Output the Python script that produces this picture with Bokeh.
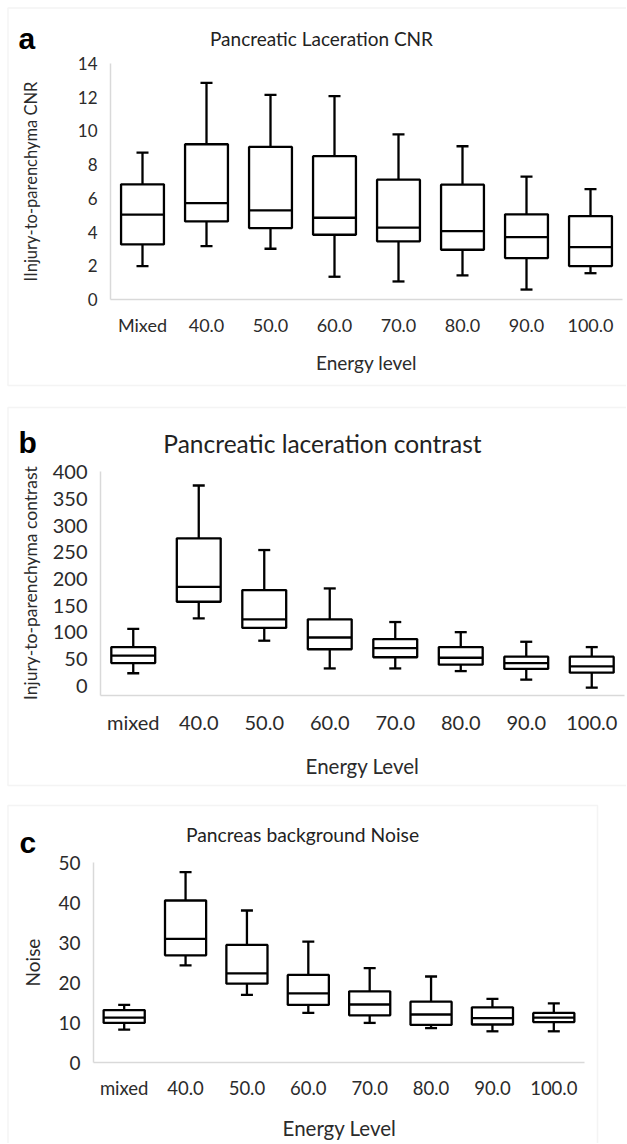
import math
from bokeh.plotting import figure
from bokeh.models import Range1d, FixedTicker, Label, BoxAnnotation, ColumnDataSource
from bokeh.transform import dodge
from bokeh.layouts import column
from bokeh.embed import file_html
from bokeh.resources import INLINE

# ---------------- data ----------------
cats_a = ["Mixed", "40.0", "50.0", "60.0", "70.0", "80.0", "90.0", "100.0"]
cats_bc = ["mixed", "40.0", "50.0", "60.0", "70.0", "80.0", "90.0", "100.0"]

cnr_low = [1.98, 3.17, 3.01, 1.35, 1.07, 1.43, 0.59, 1.56]
cnr_q1 = [3.27, 4.63, 4.24, 3.84, 3.45, 2.95, 2.46, 1.98]
cnr_med = [5.03, 5.72, 5.29, 4.85, 4.26, 4.06, 3.70, 3.11]
cnr_q3 = [6.83, 9.21, 9.05, 8.50, 7.11, 6.81, 5.05, 4.95]
cnr_high = [8.71, 12.85, 12.14, 12.06, 9.80, 9.09, 7.29, 6.55]
cnr_ticks = [0, 2, 4, 6, 8, 10, 12, 14]

con_low = [23, 126, 84, 32, 32, 27, 11, -4]
con_q1 = [42, 157, 108, 68, 53, 39, 31, 24]
con_med = [56, 185, 124, 90, 70, 52, 42, 36]
con_q3 = [72, 276, 179, 124, 87, 72, 54, 54]
con_high = [106, 375, 254, 182, 119, 100, 82, 72]
con_ticks = [0, 50, 100, 150, 200, 250, 300, 350, 400]

noi_low = [8.2, 24.3, 16.9, 12.4, 9.9, 8.6, 7.8, 7.8]
noi_q1 = [9.9, 26.8, 19.7, 14.4, 11.8, 9.4, 9.5, 10.1]
noi_med = [11.2, 30.9, 22.3, 17.3, 14.5, 12.0, 11.1, 11.2]
noi_q3 = [13.1, 40.5, 29.4, 21.9, 17.8, 15.2, 13.8, 12.4]
noi_high = [14.4, 47.6, 38.0, 30.2, 23.6, 21.5, 15.9, 14.8]
noi_ticks = [0, 10, 20, 30, 40, 50]

FONT = "Lato"
TXT = "#2b2b2b"
GRID = "#d9d9d9"
W = 626


def panel(cats, low, q1, med, q3, high, ticks, y0, y1, *, height, plot_box,
          title, title_size, title_pos, letter, letter_pos,
          ylabel, ylabel_size, ylabel_x, tick_size, xtick_size, xtick_standoff,
          xlabel, xlabel_size, xlabel_pos, border):
    n = len(cats)
    xpos = list(range(n))
    L, T, R, B = plot_box
    xa, xb = -0.5, n - 0.5
    kx = (R - L) / (xb - xa)
    ky = (B - T) / (y1 - y0)
    xs = xa - L / kx
    xe = xb + (W - R) / kx
    ye = y1 + T / ky
    ys = y0 - (height - B) / ky

    def X(px):
        return xs + px / kx

    def Y(py):
        return ye - py / ky

    p = figure(width=W, height=height, x_range=Range1d(xs, xe), y_range=Range1d(ys, ye),
               output_backend="svg", toolbar_location=None,
               min_border=0, min_border_left=0, min_border_right=0,
               min_border_top=0, min_border_bottom=0)
    p.outline_line_color = None
    p.xgrid.grid_line_color = None
    p.ygrid.grid_line_color = None
    p.background_fill_color = "white"
    p.border_fill_color = "white"

    # panel frame
    bl, bt, br, bb = border
    p.add_layout(BoxAnnotation(left=X(bl), right=X(br), top=Y(bt), bottom=Y(bb),
                               fill_color=None, fill_alpha=0, line_color=GRID, line_width=1.5,
                               level="underlay"))

    src = ColumnDataSource(dict(x=xpos, low=low, q1=q1, med=med, q3=q3, high=high))
    lw = 2.3
    p.segment(x0="x", y0="low", x1="x", y1="high", source=src, line_color="black", line_width=lw)
    p.vbar(x="x", width=0.67, bottom="q1", top="q3", source=src, fill_color="white",
           line_color="black", line_width=lw)
    p.segment(x0=dodge("x", -0.335), y0="med", x1=dodge("x", 0.335), y1="med", source=src,
              line_color="black", line_width=lw)
    p.scatter(x="x", y="high", source=src, marker="dash", size=12, line_color="black", line_width=lw)
    p.scatter(x="x", y="low", source=src, marker="dash", size=12, line_color="black", line_width=lw)

    for ax in (p.xaxis, p.yaxis):
        ax.axis_line_color = GRID
        ax.axis_line_width = 1.5
        ax.major_tick_line_color = None
        ax.minor_tick_line_color = None
        ax.major_tick_out = 0
        ax.major_tick_in = 0
        ax.major_label_text_font = FONT
        ax.major_label_text_color = TXT

    p.yaxis.fixed_location = xa
    p.yaxis.bounds = (y0, y1)
    p.yaxis.ticker = FixedTicker(ticks=ticks)
    p.yaxis.major_label_text_font_size = tick_size
    p.yaxis.major_label_standoff = 13

    p.xaxis.fixed_location = y0
    p.xaxis.bounds = (xa, xb)
    p.xaxis.ticker = FixedTicker(ticks=xpos)
    p.xaxis.major_label_overrides = {i: c for i, c in zip(xpos, cats)}
    p.xaxis.major_label_text_font_size = xtick_size
    p.xaxis.major_label_standoff = xtick_standoff

    p.add_layout(Label(x=X(title_pos[0]), y=Y(title_pos[1]), text=title, text_font=FONT,
                       text_font_size=title_size, text_color="#222222",
                       text_align="center", text_baseline="alphabetic"))
    p.add_layout(Label(x=X(letter_pos[0]), y=Y(letter_pos[1]), text=letter,
                       text_font="Liberation Sans", text_font_style="bold",
                       text_font_size="30px", text_color="black",
                       text_align="left", text_baseline="alphabetic"))
    p.add_layout(Label(x=X(ylabel_x), y=Y((T + B) / 2), text=ylabel, text_font=FONT,
                       text_font_size=ylabel_size, text_color=TXT, angle=math.pi / 2,
                       text_align="center", text_baseline="middle"))
    p.add_layout(Label(x=X(xlabel_pos[0]), y=Y(xlabel_pos[1]), text=xlabel, text_font=FONT,
                       text_font_size=xlabel_size, text_color=TXT,
                       text_align="center", text_baseline="middle"))
    return p


# panel a: canvas y = page y
pa = panel(cats_a, cnr_low, cnr_q1, cnr_med, cnr_q3, cnr_high, cnr_ticks, 0, 14,
           height=396, plot_box=(110, 63, 622, 299),
           title="Pancreatic Laceration CNR", title_size="19px", title_pos=(321, 38),
           letter="a", letter_pos=(18, 38),
           ylabel="IInjury-to-parenchyma CNR", ylabel_size="16.5px", ylabel_x=30,
           tick_size="17px", xtick_size="18px", xtick_standoff=14,
           xlabel="Energy level", xlabel_size="19px", xlabel_pos=(366, 362),
           border=(7.5, 7.5, 680, 385))

# panel b: canvas y = page y - 396
pb = panel(cats_bc, con_low, con_q1, con_med, con_q3, con_high, con_ticks, -18, 402,
           height=399, plot_box=(100, 74.6, 624, 298.6),
           title="Pancreatic laceration contrast", title_size="24.5px", title_pos=(322, 47),
           letter="b", letter_pos=(18, 46),
           ylabel="Injury-to-parenchyma contrast", ylabel_size="17.5px", ylabel_x=30,
           tick_size="20px", xtick_size="20px", xtick_standoff=15,
           xlabel="Energy Level", xlabel_size="20.5px", xlabel_pos=(362, 369),
           border=(7.5, 11, 680, 389))

# panel c: canvas y = page y - 795
pc = panel(cats_bc, noi_low, noi_q1, noi_med, noi_q3, noi_high, noi_ticks, 0, 50,
           height=348, plot_box=(93, 67, 584, 267),
           title="Pancreas background Noise", title_size="19.3px", title_pos=(302, 39),
           letter="c", letter_pos=(19, 47),
           ylabel="Noise", ylabel_size="19px", ylabel_x=32,
           tick_size="19px", xtick_size="18.5px", xtick_standoff=14,
           xlabel="Energy Level", xlabel_size="20.5px", xlabel_pos=(339, 332),
           border=(7.5, 10, 597, 400))

layout = column(pa, pb, pc, spacing=0)
open("out.html", "w").write(file_html(layout, INLINE))
